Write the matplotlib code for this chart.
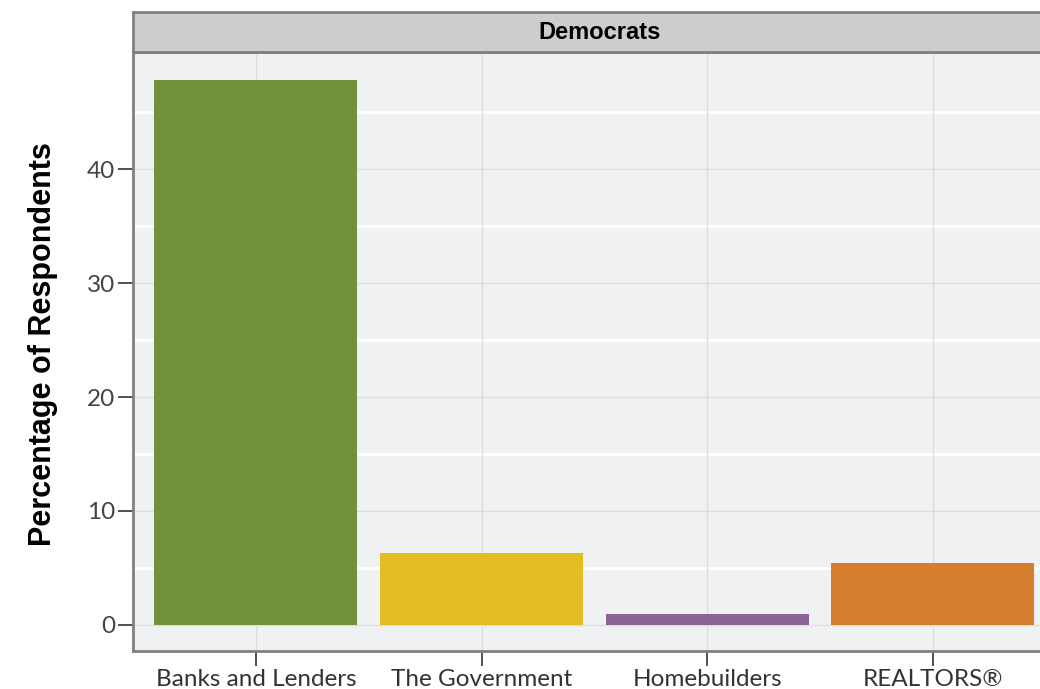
import matplotlib.pyplot as plt

# data
categories = ['Banks and Lenders', 'The Government', 'Homebuilders', 'REALTORS®']
values = [47.8, 6.3, 0.95, 5.4]
colors = ['#71923a', '#e3bd22', '#8a6497', '#d57e2e']
facet_title = 'Democrats'
y_ticks = [0, 10, 20, 30, 40]
y_minor = [5, 15, 25, 35, 45]

plt.rcParams['font.family'] = ['Lato', 'DejaVu Sans']

fig = plt.figure(figsize=(10.4, 6.89), dpi=100)

# panel spans past the right edge, like the cropped original
W, H = 1040, 689
left, right = 133, 1068
top, bottom = 52, 651
ax = fig.add_axes([left / W, 1 - bottom / H, (right - left) / W, (bottom - top) / H])
ax.set_facecolor('#f0f1f3')

x = list(range(len(categories)))
ax.bar(x, values, width=0.9, color=colors, zorder=3)

ax.set_xlim(-0.545, 3.6)
ax.set_ylim(-2.3, 50.3)

# gridlines: grey majors, white minors
for v in y_ticks:
    ax.axhline(v, color='#dddddd', lw=1, zorder=1)
for v in y_minor:
    ax.axhline(v, color='white', lw=2.2, zorder=1)
for v in x:
    ax.axvline(v, color='#dddddd', lw=1, zorder=1)

ax.set_xticks(x)
ax.set_xticklabels(categories, fontsize=17.5, color='#333333')
ax.set_yticks(y_ticks)
ax.set_yticklabels([str(t) for t in y_ticks], fontsize=17.5, color='#444444')
ax.tick_params(axis='both', length=11, width=1.2, color='#333333', pad=2)

ax.spines['right'].set_visible(False)
for side in ['left', 'bottom', 'top']:
    ax.spines[side].set_color('#808080')
    ax.spines[side].set_linewidth(2)

ax.set_ylabel('Percentage of Respondents', fontsize=22, fontweight='bold',
              family=['Liberation Sans', 'DejaVu Sans'])
ax.yaxis.set_label_coords(-0.08, 0.512)

# facet strip
strip = fig.add_axes([left / W, 1 - top / H, (right - left) / W, 40 / H])
strip.set_xticks([])
strip.set_yticks([])
strip.set_facecolor('#cdcdcb')
for s in strip.spines.values():
    s.set_color('#808080')
    s.set_linewidth(2)
strip.spines['right'].set_visible(False)
strip.text((600 - left) / (right - left), 0.48, facet_title, transform=strip.transAxes,
           ha='center', va='center', fontsize=17, fontweight='bold',
           family=['Liberation Sans', 'DejaVu Sans'])

fig.savefig('out.png', dpi=100)
